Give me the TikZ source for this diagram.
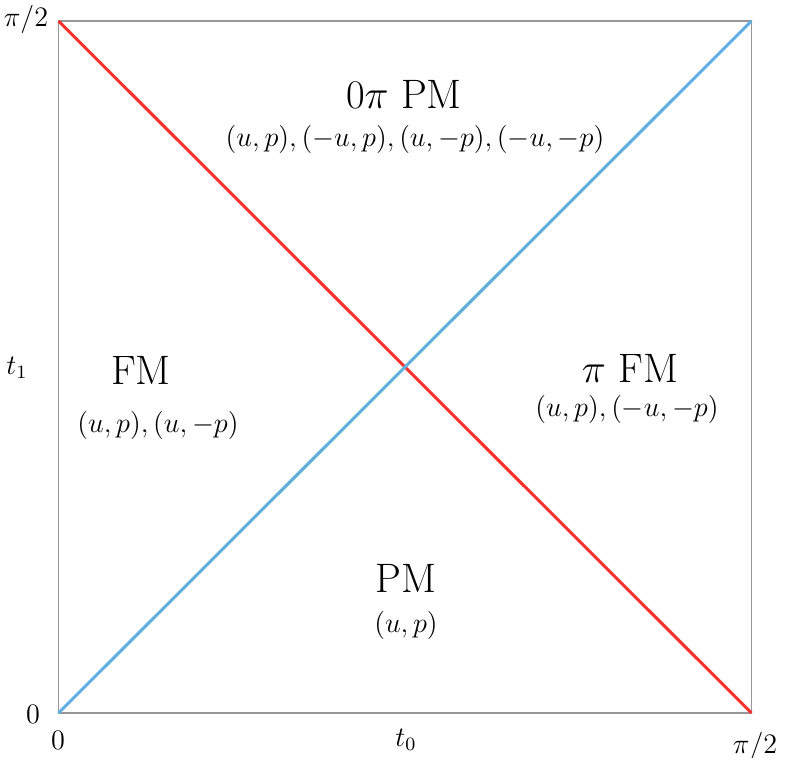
\documentclass[tikz,border=0pt]{standalone}
\usepackage{amsmath}
\usepackage{amssymb}
\usepackage{tikz}
\usetikzlibrary{positioning}
\definecolor{lineblue}{RGB}{96,176,224}
\definecolor{linered}{RGB}{250,50,45}
\definecolor{framegray}{RGB}{150,150,155}

\begin{document}
\begin{tikzpicture}[x=0.4255pt, y=-0.4255pt,
  region/.style={font=\fontsize{17.5}{21}\selectfont, inner sep=0pt},
  pairs/.style={font=\large, inner sep=0pt},
  tick/.style={font=\large, inner sep=0pt}]
\useasboundingbox (0,0) rectangle (789,757);
%\draw [help lines] (0,0) grid[step=50] (789,757);
%corners
\coordinate (sw) at (58.5,713);
\coordinate (se) at (751.5,713);
\coordinate (nw) at (58.5,21);
\coordinate (ne) at (751.5,21);

\draw [framegray, line width=0.8pt] (sw) rectangle (ne);
\draw [linered, line width=1.3pt] (nw) -- (se);
\draw [lineblue, line width=1.3pt] (sw) -- (ne);

%ticks
\node [tick] (ytop) at (26,19) {$\pi/2$};
\node [tick] (ymid) at (17,368) {$t_1$};
\node [tick] (ybot) at (33,714) {$0$};
\node [tick] (xleft) at (58,740) {$0$};
\node [tick] (xmid) at (406,740) {$t_0$};
\node [tick] (xright) at (755,746) {$\pi/2$};

%regions
\node [region] (top) at (404,94) {$0\pi$ PM};
\node [pairs] (topp) at (415,139) {$(u,p),(-u,p),(u,-p),(-u,-p)$};
\node [region] (left) at (141,370) {FM};
\node [pairs] (leftp) at (158,425) {$(u,p),(u,-p)$};
\node [region] (right) at (630,368) {$\pi$ FM};
\node [pairs] (rightp) at (627,409) {$(u,p),(-u,-p)$};
\node [region] (bottom) at (406,578) {PM};
\node [pairs] (bottomp) at (406,625) {$(u,p)$};
\end{tikzpicture}
\end{document}
